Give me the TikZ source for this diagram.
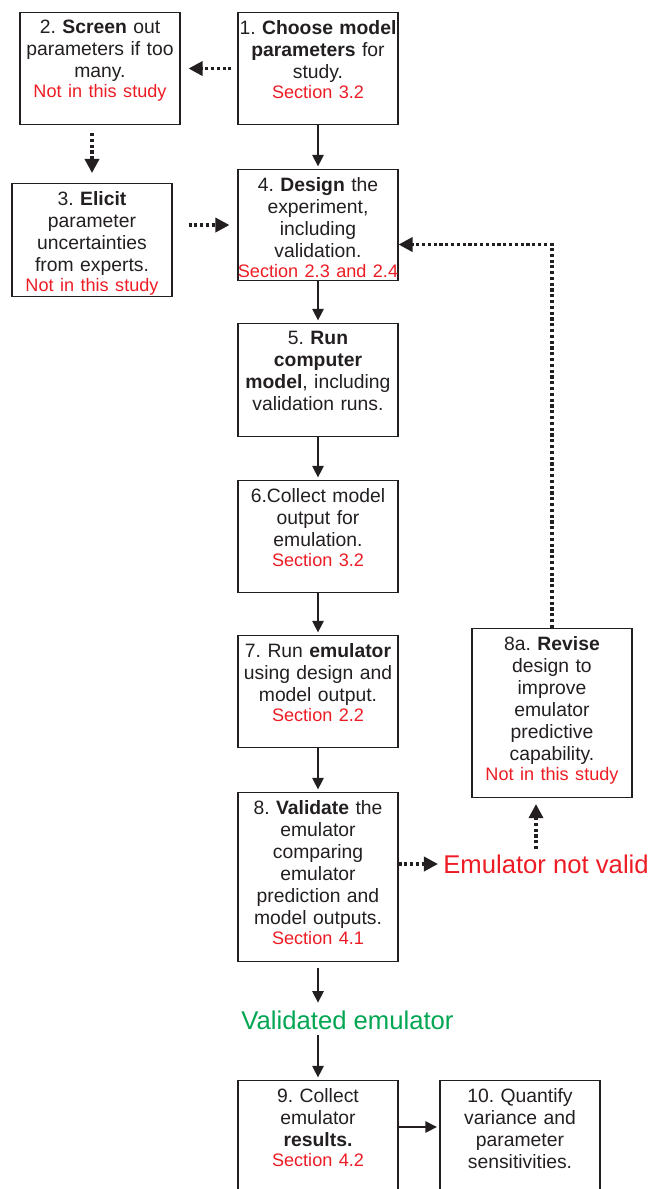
\documentclass[tikz,border=0pt]{standalone}
\usepackage{fontspec}
\setmainfont{Liberation Sans}
\usepackage{tikz}
\usetikzlibrary{arrows,arrows.meta,positioning}

\definecolor{secred}{RGB}{237,28,36}
\definecolor{validgreen}{RGB}{0,166,81}
\definecolor{ink}{RGB}{35,31,32}
\newcommand{\sect}[1]{{\color{secred}\fontsize{10.3}{12}\selectfont #1}}
\frenchspacing

\begin{document}
\begin{tikzpicture}
			\tikzstyle{Stage} 	= [draw=ink, line width=0.6pt, minimum width=3.2cm, anchor=north, inner sep=0pt]
			\tikzstyle{Txt}		= [anchor=north, text width=3.4cm, align=center, inner sep=0pt, yshift=-0.16cm, text=ink, font=\fontsize{11}{12.5}\selectfont]
			\tikzstyle{Flow}	= [line width=0.8pt, ink, -{Triangle[length=6.5pt, width=6.5pt]}, shorten >=1.5pt]
			\tikzstyle{Maybe}	= [line width=1.9pt, ink, dash pattern=on 1.8pt off 1.5pt, -{Triangle[length=8pt, width=8pt]}]
			\tikzstyle{Verdict}	= [font=\fontsize{14.6}{17}\selectfont, inner sep=0.1cm]

			\useasboundingbox (0,0) rectangle (13.08,-23.78);

			\node (s1) at (6.36, -0.24) [Stage, minimum height=2.24cm, label={[Txt]north:{1. \textbf{Choose model}\\ \textbf{parameters} for\\ study.\\[-1pt] \sect{Section 3.2}}}] {};
			\node (s2) at (2.00, -0.24) [Stage, minimum height=2.24cm, label={[Txt]north:{2. \textbf{Screen} out\\ parameters if too\\ many.\\[-1pt] \sect{Not in this study}}}] {};
			\node (s3) at (1.84, -3.66) [Stage, minimum height=2.26cm, label={[Txt]north:{3. \textbf{Elicit}\\ parameter\\ uncertainties\\ from experts.\\[-1pt] \sect{Not in this study}}}] {};
			\node (s4) at (6.36, -3.38) [Stage, minimum height=2.22cm, label={[Txt]north:{4. \textbf{Design} the\\ experiment,\\ including\\ validation.\\[-1pt] \sect{Section 2.3 and 2.4}}}] {};
			\node (s5) at (6.36, -6.46) [Stage, minimum height=2.26cm, label={[Txt]north:{5. \textbf{Run}\\ \textbf{computer}\\ \textbf{model}, including\\ validation runs.}}] {};
			\node (s6) at (6.36, -9.60) [Stage, minimum height=2.24cm, label={[Txt]north:{6.Collect model\\ output for\\ emulation.\\[-1pt] \sect{Section 3.2}}}] {};
			\node (s7) at (6.36, -12.70) [Stage, minimum height=2.24cm, label={[Txt]north:{7. Run \textbf{emulator}\\ using design and\\ model output.\\[-1pt] \sect{Section 2.2}}}] {};
			\node (s8) at (6.36, -15.84) [Stage, minimum height=3.38cm, label={[Txt]north:{8. \textbf{Validate} the\\ emulator\\ comparing\\ emulator\\ prediction and\\ model outputs.\\[-1pt] \sect{Section 4.1}}}] {};
			\node (s8a) at (11.04, -12.56) [Stage, minimum height=3.38cm, label={[Txt]north:{8a. \textbf{Revise}\\ design to\\ improve\\ emulator\\ predictive\\ capability.\\[-1pt] \sect{Not in this study}}}] {};
			\node (s9) at (6.36, -21.60) [Stage, minimum height=3.2cm, label={[Txt]north:{9. Collect\\ emulator\\ \textbf{results.}\\[-1pt] \sect{Section 4.2}}}] {};
			\node (s10) at (10.40, -21.60) [Stage, minimum height=3.2cm, label={[Txt]north:{10. Quantify\\ variance and\\ parameter\\ sensitivities.}}] {};

			\node (notvalid) at (8.76, -17.28) [Verdict, anchor=west, text=secred] {Emulator not valid};
			\node (valid) at (6.95, -20.40) [Verdict, text=validgreen] {Validated emulator};
			\coordinate (upfoot) at ([xshift=1.96cm]notvalid.north west);

			\draw (s1.west) to (s2.east) [Maybe, shorten <=0.12cm, shorten >=0.16cm];
			\draw (s2.south -| s3.north) to (s3.north) [Maybe, shorten <=0.16cm, shorten >=0.2cm];
			\draw (s3.east |- s4.west) to (s4.west) [Maybe, shorten <=0.32cm, shorten >=0.16cm];
			\draw (s1) to (s4) [Flow];
			\draw (s4) to (s5) [Flow];
			\draw (s5) to (s6) [Flow];
			\draw (s6) to (s7) [Flow];
			\draw (s7) to (s8) [Flow];
			\draw (s8.east |- notvalid.west) to (notvalid.west) [Maybe];
			\draw (upfoot) to (upfoot |- s8a.south) [Maybe, shorten >=0.12cm];
			\draw (s8a.north) |- ([yshift=-0.39cm]s4.east) [Maybe];
			\draw (s8) to (s8 |- valid.north) [Flow, shorten <=0.12cm];
			\draw (s8 |- valid.south) to (s9) [Flow];
			\draw ([yshift=-0.94cm]s9.north east) to ([yshift=-0.94cm]s10.north west) [Flow];
		\end{tikzpicture}
\end{document}
